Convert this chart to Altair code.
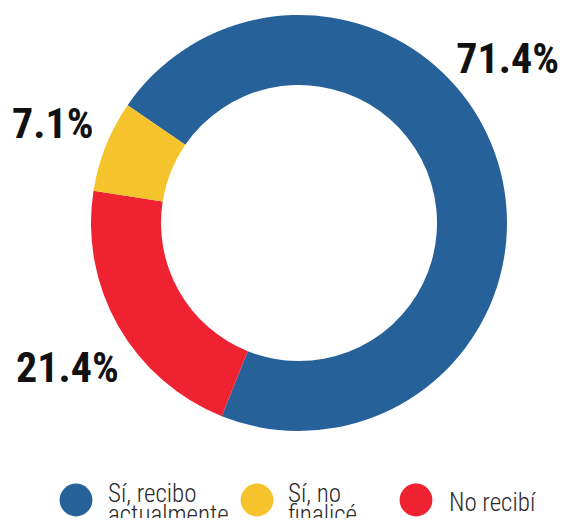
import math
import altair as alt
import pandas as pd

# --- data ---
categories = ["Sí, recibo actualmente", "No recibí", "Sí, no finalicé"]
values = [71.4, 21.4, 7.1]
colors = ["#27619a", "#ee2230", "#f5c42c"]
pct_labels = ["71.4%", "21.4%", "7.1%"]
legend_categories = ["Sí, recibo actualmente", "Sí, no finalicé", "No recibí"]
legend_labels = ["Sí, recibo\nactualmente", "Sí, no\nfinalicé", "No recibí"]

df = pd.DataFrame({"cat": categories, "val": values, "ord": [0, 1, 2]})

# --- layout ---
W, H = 552, 510
CX, CY = 291, 215
R_OUT, R_IN = 208, 138
start = math.radians(-55.5)
FONT = "Roboto Condensed, Liberation Sans Narrow, DejaVu Sans Condensed, sans-serif"

color_scale = alt.Scale(domain=categories, range=colors)

donut = alt.Chart(df).mark_arc(outerRadius=R_OUT, innerRadius=R_IN, stroke=None).encode(
    theta=alt.Theta("val:Q", stack=True, scale=alt.Scale(range=[start, start + 2 * math.pi])),
    color=alt.Color("cat:N", scale=color_scale, legend=None),
    order=alt.Order("ord:Q"),
    x=alt.value(CX),
    y=alt.value(CY),
)

# label anchor (x, y, align)
label_pos = {"71.4%": (551, 65, "right"), "21.4%": (8, 374, "left"), "7.1%": (4, 130, "left")}
labels = []
for lab in pct_labels:
    px, py, al = label_pos[lab]
    labels.append(
        alt.Chart(pd.DataFrame({"t": [lab]})).mark_text(
            font=FONT, fontSize=42, fontWeight="bold", align=al, baseline="alphabetic", color="#111"
        ).encode(text="t:N", x=alt.value(px), y=alt.value(py))
    )

leg_x = [68, 249, 408]
text_x = [100, 280, 441]
LEG_Y = 492
legend_layers = []
for i, (c, l) in enumerate(zip(legend_categories, legend_labels)):
    d = pd.DataFrame({"cat": [c], "lab": [l]})
    legend_layers.append(
        alt.Chart(d).mark_point(filled=True, shape="circle", size=1075, opacity=1).encode(
            x=alt.value(leg_x[i]), y=alt.value(LEG_Y),
            color=alt.Color("cat:N", scale=color_scale, legend=None),
        )
    )
    multiline = "\n" in l
    legend_layers.append(
        alt.Chart(d).mark_text(
            font=FONT, fontSize=25, fontWeight=300, align="left",
            baseline="alphabetic" if multiline else "middle",
            lineBreak="\n", lineHeight=21, color="#2a2a2a",
        ).encode(text="lab:N", x=alt.value(text_x[i]), y=alt.value(LEG_Y + 2 if multiline else LEG_Y + 3))
    )

chart = alt.layer(donut, *labels, *legend_layers).properties(
    width=W, height=H, autosize=alt.AutoSizeParams(type="none"), padding=0
).configure_view(stroke=None)

chart.save("out.html", embed_options={"renderer": "svg", "actions": False})
